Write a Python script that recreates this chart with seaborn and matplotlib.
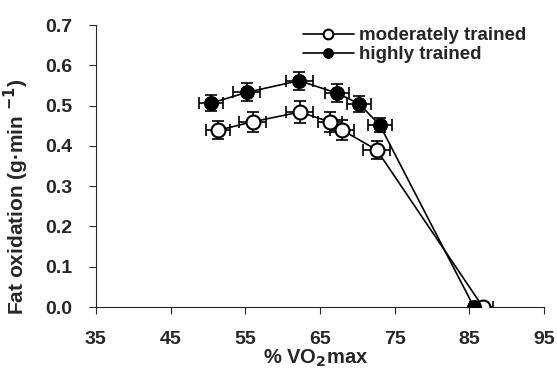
import matplotlib
matplotlib.use("Agg")
import matplotlib.pyplot as plt
import seaborn as sns
import pandas as pd

mod_x = [51.4, 56.0, 62.3, 66.3, 67.9, 72.6, 86.8]
mod_y = [0.439, 0.460, 0.484, 0.460, 0.440, 0.390, 0.0]
mod_xerr = [1.6, 1.8, 1.8, 1.6, 1.6, 1.8, 1.3]
mod_yerr = [0.022, 0.025, 0.028, 0.025, 0.025, 0.022, 0.0]

high_x = [50.4, 55.2, 62.2, 67.3, 70.2, 73.0, 85.6]
high_y = [0.506, 0.533, 0.562, 0.531, 0.505, 0.452, 0.0]
high_xerr = [1.6, 1.8, 1.8, 1.6, 1.6, 1.6, 0.5]
high_yerr = [0.020, 0.022, 0.022, 0.022, 0.020, 0.018, 0.0]

x_ticks = [35, 45, 55, 65, 75, 85, 95]
y_ticks = [0.0, 0.1, 0.2, 0.3, 0.4, 0.5, 0.6, 0.7]

sns.set_style("ticks")
plt.rcParams['font.family'] = ['Liberation Sans', 'DejaVu Sans']
plt.rcParams['font.weight'] = 'bold'
plt.rcParams['mathtext.default'] = 'bf'

df = pd.concat([
    pd.DataFrame({'x': mod_x, 'y': mod_y, 'group': 'moderately trained'}),
    pd.DataFrame({'x': high_x, 'y': high_y, 'group': 'highly trained'}),
])

fig = plt.figure(figsize=(5.57, 3.69), dpi=100)
ax = fig.add_axes([0.172, 0.168, 0.805, 0.764])

# error bars first, under the markers
ax.errorbar(mod_x, mod_y, xerr=mod_xerr, yerr=mod_yerr, fmt='none',
            ecolor='black', elinewidth=1.2, capsize=4, capthick=1.2, zorder=2)
ax.errorbar(high_x, high_y, xerr=high_xerr, yerr=high_yerr, fmt='none',
            ecolor='black', elinewidth=1.2, capsize=4, capthick=1.2, zorder=2)

sns.lineplot(data=df[df.group == 'moderately trained'], x='x', y='y', ax=ax,
             color='black', lw=1.2, marker='o', markersize=10,
             markerfacecolor='white', markeredgecolor='black', markeredgewidth=1.5,
             sort=False, label='moderately trained', zorder=3)
sns.lineplot(data=df[df.group == 'highly trained'], x='x', y='y', ax=ax,
             color='black', lw=1.2, marker='o', markersize=10,
             markerfacecolor='black', markeredgecolor='black',
             sort=False, label='highly trained', zorder=4)

ax.set_xlim(35, 95)
ax.set_ylim(0, 0.7)
ax.set_xticks(x_ticks)
ax.set_yticks(y_ticks)
ax.set_xticklabels([str(t) for t in x_ticks], fontsize=14, fontweight='bold')
ax.set_yticklabels([f"{t:.1f}" for t in y_ticks], fontsize=14, fontweight='bold')
ax.tick_params(axis='x', pad=12, length=5)
ax.tick_params(axis='y', pad=12, length=5)
ax.set_xlabel('% VO$_2$max', fontsize=14.5, fontweight='bold')
ax.set_ylabel('Fat oxidation (g·min $^{-1}$)', fontsize=15, fontweight='bold')
ax.xaxis.set_label_coords(0.49, -0.145)
ax.yaxis.set_label_coords(-0.145, 0.39)
sns.despine(ax=ax)

leg = ax.legend(loc='upper left', bbox_to_anchor=(0.544, 0.926),
                bbox_transform=fig.transFigure, frameon=False,
                fontsize=13.5, handlelength=2.7, handletextpad=0.3,
                labelspacing=0.1, borderpad=0, borderaxespad=0, markerscale=0.7)
for t in leg.get_texts():
    t.set_fontweight('bold')

fig.savefig('out.png', dpi=100)
